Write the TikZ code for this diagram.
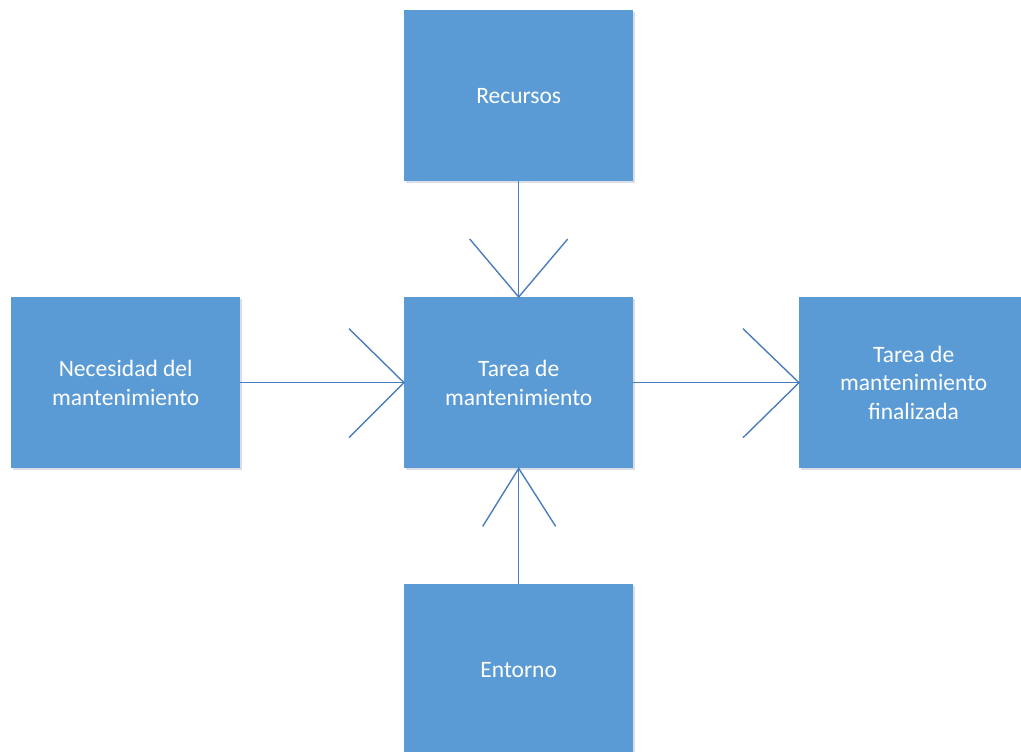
\documentclass[tikz,border=0pt]{standalone}
\usepackage{fontspec}
\setmainfont{Carlito}
\usetikzlibrary{calc}
\definecolor{boxblue}{HTML}{5B9BD5}
\definecolor{lineblue}{HTML}{4A7EBB}
\definecolor{shadowgray}{HTML}{D9DEE6}
\begin{document}
\begin{tikzpicture}[x=1pt,y=-1pt,
  blk/.style={rectangle,fill=boxblue,draw=none,minimum width=229pt,minimum height=171pt,
    text=white,align=center,font=\fontsize{23.5}{28.5}\selectfont,inner sep=0pt,
    anchor=north west},
  conn/.style={draw=lineblue,line width=1.4pt}]
\useasboundingbox (0,0) rectangle (1021,752);
\clip (0,0) rectangle (1021,752);
% shadows
\foreach \x/\y in {404/10,404/297,11/297,799/297,404/584}
  \fill[shadowgray] (\x+2,\y+2) rectangle ++(229,171);
\node[blk] (rec) at (404,10) {Recursos};
\node[blk] (tar) at (404,297) {Tarea de\\mantenimiento};
\node[blk] (nec) at (11,297) {Necesidad del\\mantenimiento};
\node[blk,minimum width=240pt] (fin) at (799,297) {\hspace*{-11pt}Tarea de\\\hspace*{-11pt}mantenimiento\\\hspace*{-11pt}finalizada};
\node[blk] (ent) at (404,584) {\raisebox{0pt}{Entorno}};
% connectors
\draw[conn] (rec.south) -- (tar.north);
\draw[conn] ($(tar.north)+(-49,-58)$) -- (tar.north) -- ++(49,-58);
\draw[conn] (nec.east) -- (tar.west);
\draw[conn] ($(tar.west)+(-55,-54)$) -- (tar.west) -- ++(-55,55);
\draw[conn] (tar.east) -- (fin.west);
\draw[conn] ($(fin.west)+(-56,-54)$) -- (fin.west) -- ++(-56,55);
\draw[conn] (ent.north) -- (tar.south);
\draw[conn] ($(tar.south)+(-36,58)$) -- (tar.south) -- ++(37,58);
\end{tikzpicture}
\end{document}
